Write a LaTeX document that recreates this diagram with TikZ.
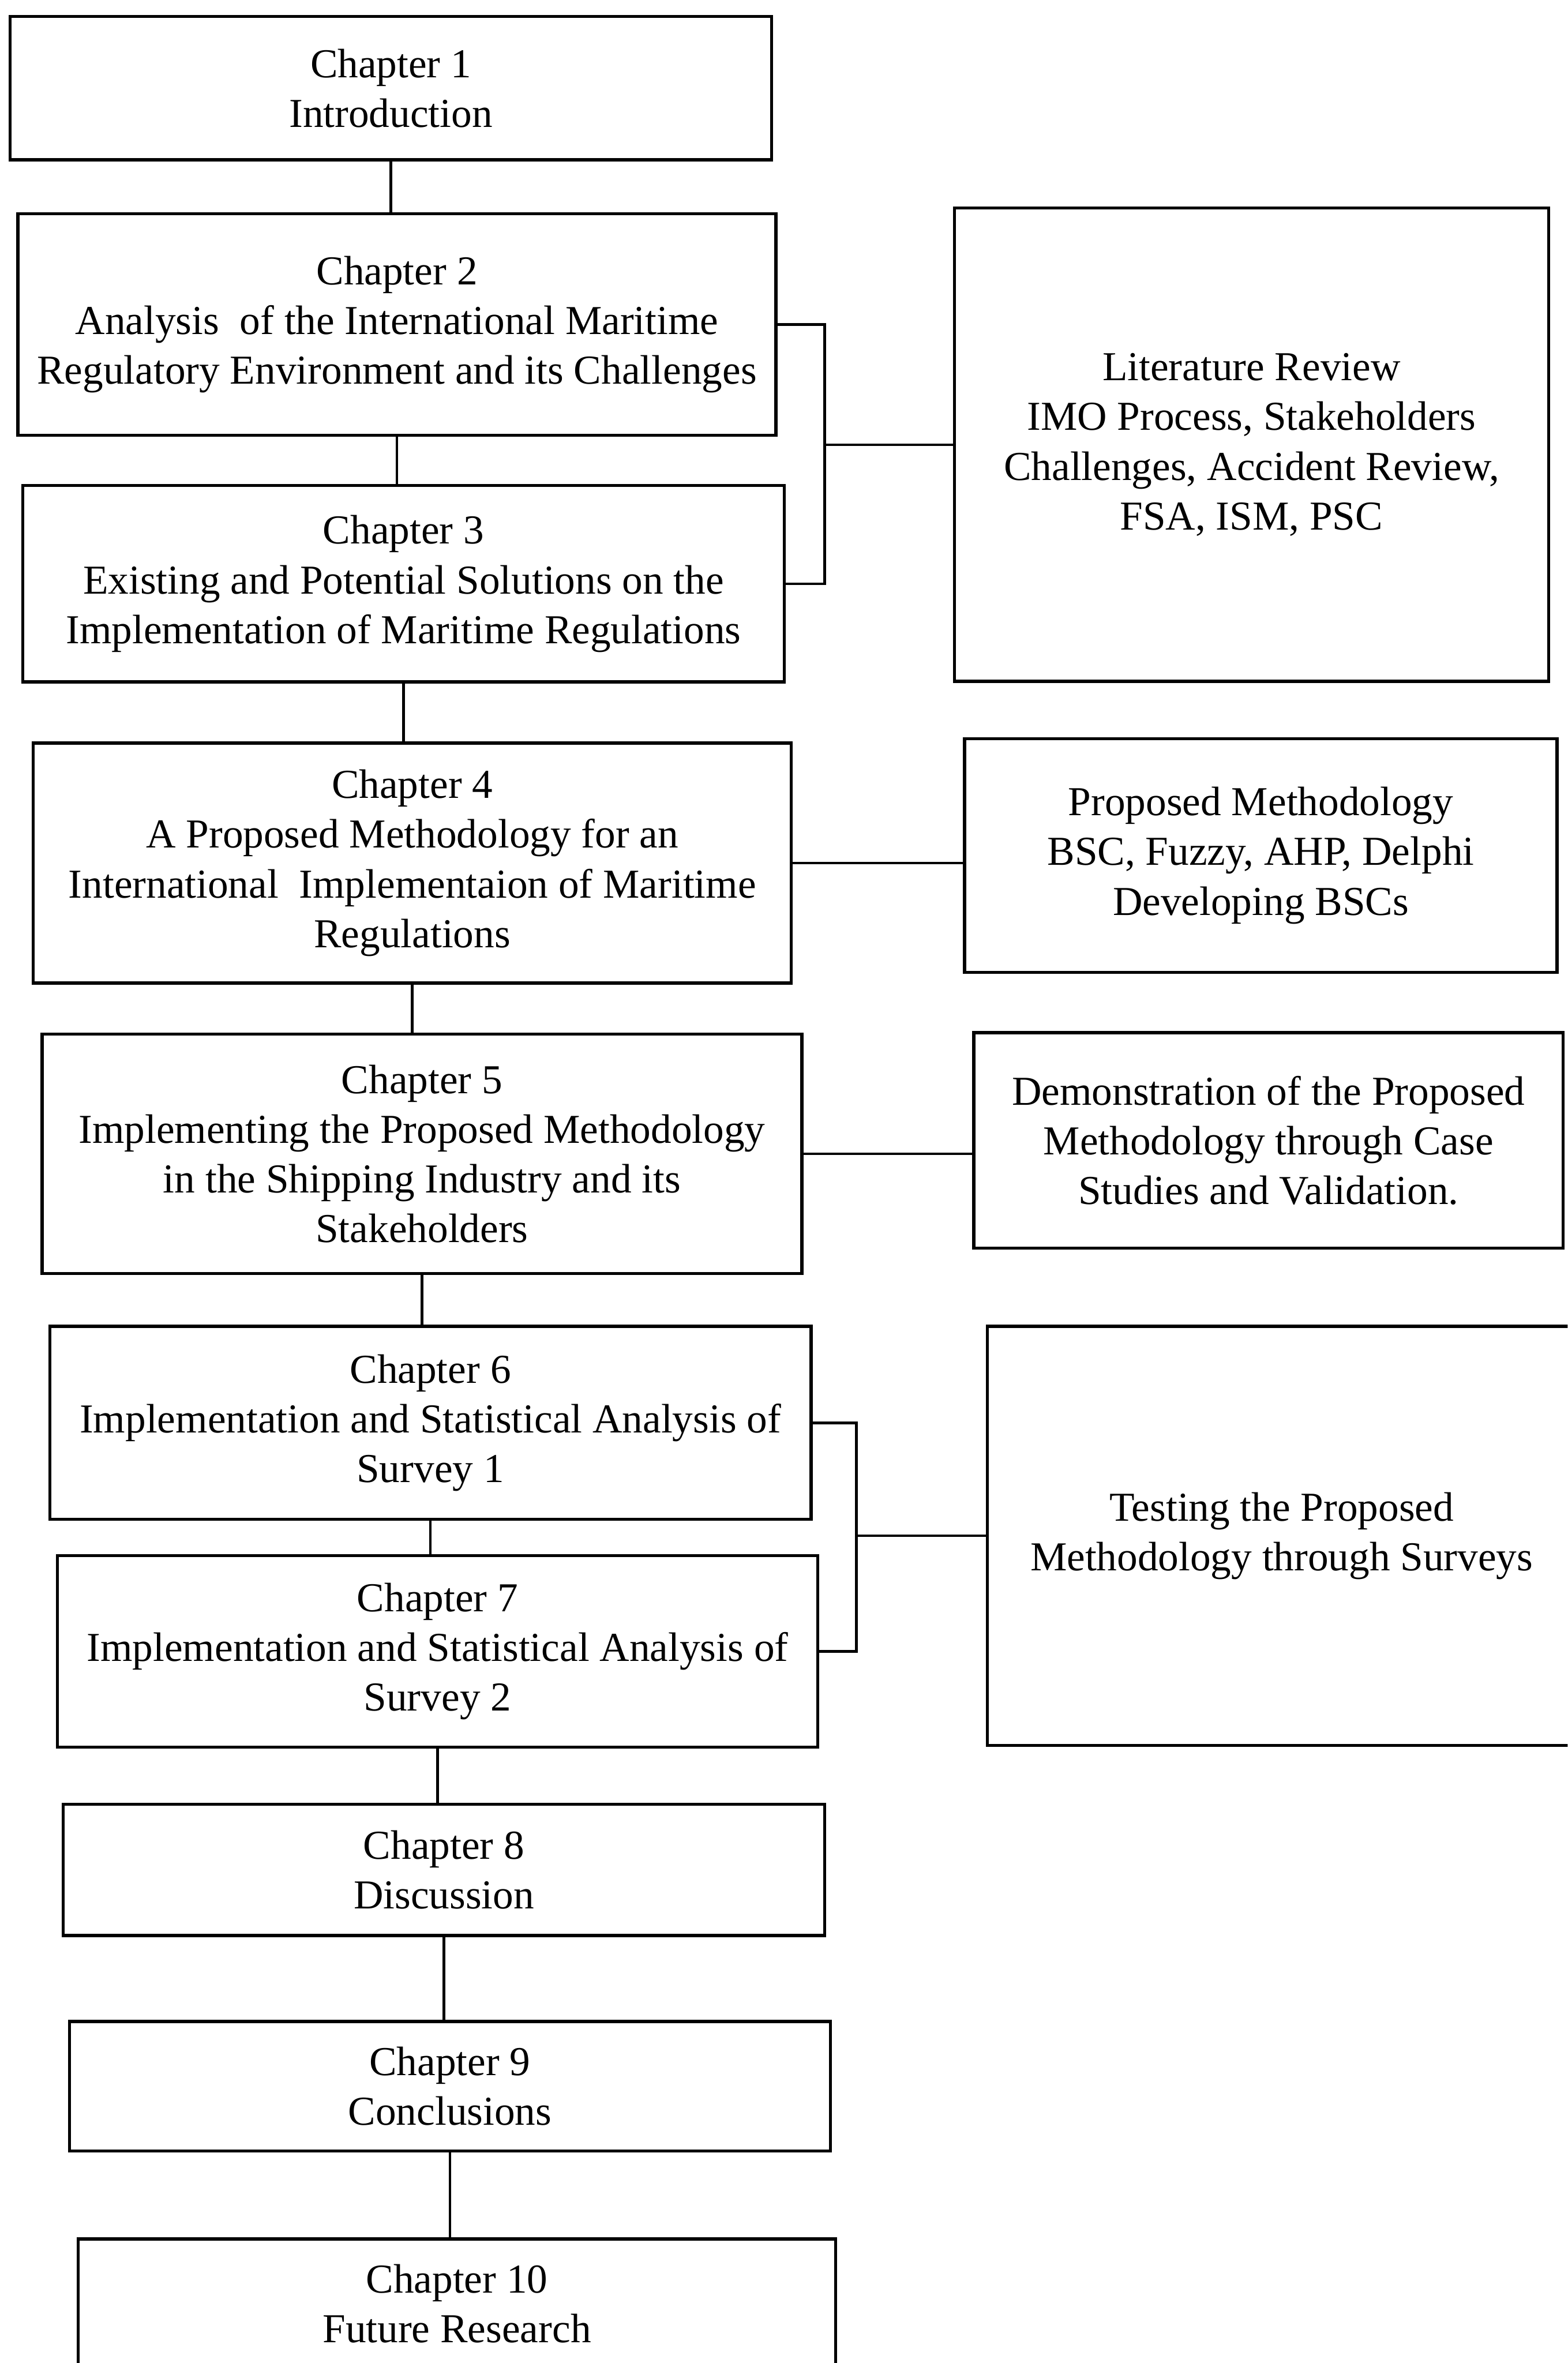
\documentclass[tikz,border=0pt]{standalone}
\usepackage{fontspec}
\setmainfont{Liberation Serif}
\begin{document}
\begin{tikzpicture}[
  box/.style={draw=black, line width=2.4pt, align=center, inner sep=0pt,
    font=\fontsize{32}{38.7}\selectfont},
  link/.style={draw=black, line width=2pt}
]
\useasboundingbox (0,0) rectangle (42.87,-64.62);
\clip (0,0) rectangle (42.87,-64.62);
\fill[white] (0,0) rectangle (42.87,-64.62);

% chapter boxes
\node[box, minimum width=20.82cm, minimum height=3.92cm] (c1) at (10.69,-2.41) {Chapter 1\\Introduction};
\node[box, minimum width=20.73cm, minimum height=6.05cm] (c2) at (10.855,-8.875) {Chapter 2\\Analysis\ \ of the International Maritime\\Regulatory Environment and its Challenges};
\node[box, minimum width=20.83cm, minimum height=5.37cm] (c3) at (11.035,-15.965) {Chapter 3\\Existing and Potential Solutions on the\\Implementation of Maritime Regulations};
\node[box, minimum width=20.73cm, minimum height=6.56cm] (c4) at (11.275,-23.60) {Chapter 4\\A Proposed Methodology for an\\International\ \ Implementaion of Maritime\\Regulations};
\node[box, minimum width=20.78cm, minimum height=6.55cm] (c5) at (11.54,-31.555) {Chapter 5\\Implementing the Proposed Methodology\\in the Shipping Industry and its\\Stakeholders};
\node[box, minimum width=20.82cm, minimum height=5.28cm] (c6) at (11.77,-38.91) {Chapter 6\\Implementation and Statistical Analysis of\\Survey 1};
\node[box, minimum width=20.79cm, minimum height=5.24cm] (c7) at (11.965,-45.16) {Chapter 7\\Implementation and Statistical Analysis of\\Survey 2};
\node[box, minimum width=20.82cm, minimum height=3.59cm] (c8) at (12.14,-51.135) {Chapter 8\\Discussion};
\node[box, minimum width=20.81cm, minimum height=3.54cm] (c9) at (12.305,-57.05) {Chapter 9\\Conclusions};
\node[box, minimum width=20.71cm, minimum height=3.54cm] (c10) at (12.495,-63.0) {Chapter 10\\Future Research};

% side boxes
\node[box, minimum width=16.25cm, minimum height=12.94cm] (lit) at (34.225,-12.16) {Literature Review\\IMO Process, Stakeholders\\Challenges, Accident Review,\\FSA, ISM, PSC};
\node[box, minimum width=16.20cm, minimum height=6.39cm] (prop) at (34.48,-23.395) {Proposed Methodology\\BSC, Fuzzy, AHP, Delphi\\Developing BSCs};
\node[box, minimum width=16.12cm, minimum height=5.89cm] (demo) at (34.69,-31.185) {Demonstration of the Proposed\\Methodology through Case\\Studies and Validation.};
\node[box, minimum width=16.10cm, minimum height=11.46cm] (test) at (35.05,-42.00) {Testing the Proposed\\Methodology through Surveys};

% vertical chain
\draw[link] (c1.south) -- (c1.south |- c2.north);
\draw[link] (c2.south) -- (c2.south |- c3.north);
\draw[link] (c3.south) -- (c3.south |- c4.north);
\draw[link] (c4.south) -- (c4.south |- c5.north);
\draw[link] (c5.south) -- (c5.south |- c6.north);
\draw[link] (c6.south) -- (c6.south |- c7.north);
\draw[link] (c7.south) -- (c7.south |- c8.north);
\draw[link] (c8.south) -- (c8.south |- c9.north);
\draw[link] (c9.south) -- (c9.south |- c10.north);

% bracket chapters 2-3 to literature review
\coordinate (bx1) at (22.55,-12.2);
\draw[link] (c2.east) -| (bx1) |- (c3.east);
\draw[link] (lit.west) -- (lit.west -| bx1);

% single links
\draw[link] (c4.east) -- (c4.east -| prop.west);
\draw[link] (c5.east) -- (c5.east -| demo.west);

% bracket chapters 6-7 to testing
\coordinate (bx2) at (23.42,-42.0);
\draw[link] (c6.east) -| (bx2) |- (c7.east);
\draw[link] (test.west) -- (test.west -| bx2);
\end{tikzpicture}
\end{document}
